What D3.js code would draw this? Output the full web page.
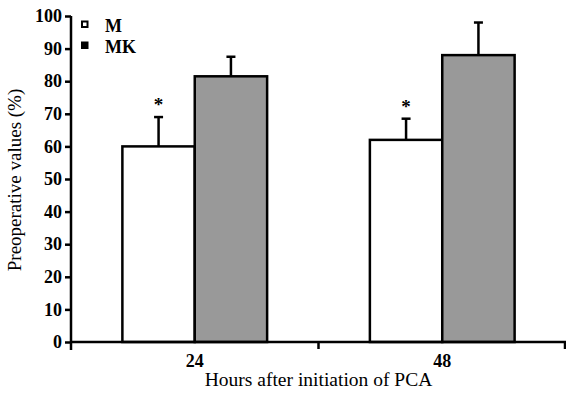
<!DOCTYPE html>
<html>
<head>
<meta charset="utf-8">
<script src="https://cdn.jsdelivr.net/npm/d3@7"></script>
<style>
  body { margin: 0; background: #fff; }
</style>
</head>
<body>
<svg id="chart" width="566" height="403"></svg>
<script>
// data
const hours = ["24", "48"]
const groups = ["M", "MK"]
const meanM = [60, 62]
const errM = [9, 6.5]
const meanMK = [81.5, 88]
const errMK = [6, 10]
const signif = [true, true]
const yTicks = [0, 10, 20, 30, 40, 50, 60, 70, 80, 90, 100]
const colors = { M: "#ffffff", MK: "#999999" }

const FONT = "Liberation Serif"
const margin = { top: 16, right: 0, bottom: 61, left: 71 }
const width = 566 - margin.left - margin.right
const height = 403 - margin.top - margin.bottom

let svg = d3.select("#chart")
  .append("g")
  .attr("transform", `translate(${margin.left}, ${margin.top})`)

let x = d3.scaleBand().domain(hours).range([0, width]).padding(0)
let xInner = d3.scaleBand().domain(groups).range([0, x.bandwidth()]).paddingOuter(0.71).paddingInner(0)
let y = d3.scaleLinear().domain([0, 100]).range([height, 0])

let rows = []
hours.forEach((h, i) => {
  rows.push({ h: h, g: "M", v: meanM[i], e: errM[i], star: signif[i] })
  rows.push({ h: h, g: "MK", v: meanMK[i], e: errMK[i], star: false })
})

// error bars (upper only) go behind the bars
let eb = svg.selectAll(".err").data(rows).enter().append("g")
eb.append("line")
  .attr("x1", d => x(d.h) + xInner(d.g) + xInner.bandwidth() / 2)
  .attr("x2", d => x(d.h) + xInner(d.g) + xInner.bandwidth() / 2)
  .attr("y1", d => y(d.v))
  .attr("y2", d => y(d.v + d.e))
  .attr("stroke", "#000").attr("stroke-width", 2.5)
eb.append("line")
  .attr("x1", d => x(d.h) + xInner(d.g) + xInner.bandwidth() / 2 - 4.5)
  .attr("x2", d => x(d.h) + xInner(d.g) + xInner.bandwidth() / 2 + 4.5)
  .attr("y1", d => y(d.v + d.e))
  .attr("y2", d => y(d.v + d.e))
  .attr("stroke", "#000").attr("stroke-width", 2.5)

svg.selectAll(".bar").data(rows).enter().append("rect")
  .attr("x", d => x(d.h) + xInner(d.g))
  .attr("y", d => y(d.v))
  .attr("width", xInner.bandwidth())
  .attr("height", d => height - y(d.v))
  .attr("fill", d => colors[d.g])
  .attr("stroke", "#000").attr("stroke-width", 2.5)

svg.selectAll(".star").data(rows.filter(d => d.star)).enter().append("text")
  .attr("x", d => x(d.h) + xInner(d.g) + xInner.bandwidth() / 2)
  .attr("y", d => y(d.v + d.e) - 6)
  .attr("text-anchor", "middle")
  .attr("font-family", FONT).attr("font-size", 19).attr("font-weight", "bold")
  .text("*")

// y axis
let yAxis = svg.append("g")
  .call(d3.axisLeft(y).tickValues(yTicks).tickSize(6).tickPadding(3))
yAxis.attr("font-family", FONT).attr("font-size", 18)
yAxis.select(".domain").remove()
yAxis.append("line").attr("x1", 0).attr("x2", 0).attr("y1", 0).attr("y2", height + 8)
  .attr("stroke", "#000").attr("stroke-width", 2.5)
yAxis.selectAll(".tick line").attr("stroke", "#000").attr("stroke-width", 2.5)
yAxis.selectAll(".tick text").attr("fill", "#000").attr("font-weight", "bold")

// x axis
let xAxis = svg.append("g").attr("transform", `translate(0, ${height})`)
xAxis.append("line").attr("x1", 0).attr("x2", width).attr("stroke", "#000").attr("stroke-width", 2.5)
xAxis.selectAll(".xt").data(hours.slice(1).concat(["end"])).enter().append("line")
  .attr("x1", d => d == "end" ? width - 1 : x(d))
  .attr("x2", d => d == "end" ? width - 1 : x(d))
  .attr("y1", 0).attr("y2", 7)
  .attr("stroke", "#000").attr("stroke-width", 2.5)
xAxis.selectAll(".xl").data(hours).enter().append("text")
  .attr("x", d => x(d) + x.bandwidth() / 2)
  .attr("y", 25)
  .attr("text-anchor", "middle")
  .attr("font-family", FONT).attr("font-size", 18).attr("font-weight", "bold")
  .text(d => d)

// titles
svg.append("text")
  .attr("x", width / 2)
  .attr("y", height + 44)
  .attr("text-anchor", "middle")
  .attr("font-family", FONT).attr("font-size", 19.5)
  .text("Hours after initiation of PCA")

svg.append("text")
  .attr("transform", `translate(${-50}, ${height / 2 + 1}) rotate(-90)`)
  .attr("text-anchor", "middle")
  .attr("font-family", FONT).attr("font-size", 19)
  .text("Preoperative values (%)")

// legend
let legend = svg.selectAll(".leg").data(groups).enter().append("g")
  .attr("transform", (d, i) => `translate(10, ${i * 21})`)
legend.append("rect")
  .attr("x", 1).attr("y", 5.5).attr("width", 5.5).attr("height", 5.5)
  .attr("fill", d => d == "M" ? "#fff" : "#000")
  .attr("stroke", "#000").attr("stroke-width", 2)
legend.append("text")
  .attr("x", 24).attr("y", 15.5)
  .attr("font-family", FONT).attr("font-size", 18).attr("font-weight", "bold")
  .text(d => d)
</script>
</body>
</html>
